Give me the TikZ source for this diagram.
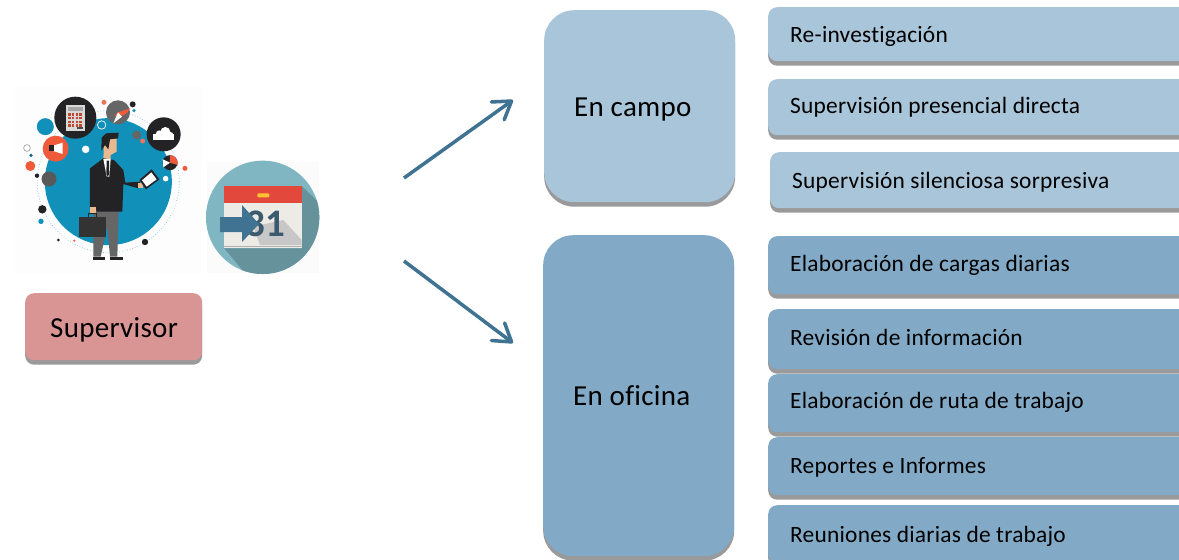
\documentclass[tikz,border=0pt]{standalone}
\usepackage{fontspec}
\setmainfont[LetterSpace=1,Ligatures=NoCommon]{Carlito}
\usetikzlibrary{shadows,arrows.meta}
\definecolor{pinkbox}{HTML}{D99594}
\definecolor{lightbox}{HTML}{A9C5D9}
\definecolor{darkbox}{HTML}{82AAC6}
\definecolor{arrowblue}{HTML}{3F7391}
\definecolor{shade}{HTML}{9A9A9A}
\definecolor{ball}{HTML}{1190B9}
\definecolor{suit}{HTML}{232326}
\definecolor{skin}{HTML}{E9B98F}
\definecolor{orangeic}{HTML}{EF5A3A}
\definecolor{calteal}{HTML}{7FB6C1}
\definecolor{calshade}{HTML}{66929C}
\definecolor{calred}{HTML}{E2483C}
\definecolor{calpage}{HTML}{EDEBE6}
\definecolor{calnum}{HTML}{3C5A6E}
\tikzset{
  boxbase/.style={rounded corners=#1,drop shadow={shadow xshift=0pt,shadow yshift=-4.5pt,opacity=1,fill=shade,rounded corners=#1},inner sep=0pt},
  sidebox/.style={boxbase=9pt,anchor=north west,minimum width=430pt},
  lightrow/.style={sidebox,fill=lightbox},
  darkrow/.style={sidebox,fill=darkbox},
  mainbox/.style={boxbase=30pt,anchor=north west,minimum width=191pt},
  rowtext/.style={anchor=base west,inner sep=0pt,font=\fontsize{23.4}{25}\selectfont},
  bigtext/.style={anchor=base west,inner sep=0pt,font=\fontsize{29}{30}\selectfont},
  flow/.style={draw=arrowblue,line width=3.5pt,-{Straight Barb[length=17pt,width=22pt,line width=3.5pt,round]}}
}
\begin{document}
\begin{tikzpicture}[x=1pt,y=-1pt]
\clip (0,0) rectangle (1179,560);
\fill[white] (0,0) rectangle (1179,560);

% ---------- supervisor illustration (coordinates in 3x crop units)
\begin{scope}[shift={(0,70)},x=0.33333pt,y=-0.33333pt]
  \fill[black!.8] (45,50) rectangle (605,610);
  \fill[ball] (325,335) circle[radius=63.5pt];
  \draw[ball!50,dotted,line width=.7pt] (325,335) circle[radius=71pt];
  % orbit icons
  \fill[suit] (226,143) circle[radius=21pt];
  \fill[black!15] (198,106) rectangle (254,182);
  \fill[black!35] (204,112) rectangle (248,124);
  \foreach \xx in {205,216,227,238}{\foreach \yy in {130,141,152,163}{\fill[orangeic!80!black] (\xx,\yy) rectangle ++(7,7);}}
  \fill[black!70] (230,172) rectangle (250,178);
  \fill[ball] (136,170) circle[radius=8.5pt];
  \fill[orangeic] (167,236) circle[radius=13pt];
  \fill[white] (150,230) -- (188,218) -- (188,252) -- (150,240) -- cycle;
  \fill[suit] (146,226) rectangle (163,242);
  \fill[black!60] (354,127) circle[radius=12pt];
  \fill[orangeic] (354,127) -- (390,115) arc[start angle=-20,end angle=-110,radius=12pt] -- cycle;
  \fill[white] (354,127) -- (340,160) -- (366,140) -- cycle;
  \fill[suit] (398,103) circle[radius=3pt];
  \fill[orangeic!85] (312,97) circle[radius=2.5pt];
  \fill[ball] (402,122) circle[radius=1.8pt];
  \fill[suit] (491,193) circle[radius=17pt];
  \fill[white] (460,210) rectangle (522,192);
  \fill[white] (478,192) circle[radius=3.6pt] (496,186) circle[radius=5pt] (510,196) circle[radius=3.5pt];
  \fill[black!60] (410,195) circle[radius=4.5pt];
  \fill[orangeic!85] (428,213) circle[radius=2.5pt];
  \fill[white] (257,238) circle[radius=3.8pt];
  \draw[white,line width=.7pt] (305,165) circle[radius=4.2pt];
  \fill[suit] (510,278) circle[radius=7.5pt];
  \fill[orangeic] (510,255) -- (510,278) -- (533,285) arc[start angle=-15,end angle=85,radius=7.5pt] -- cycle;
  \fill[white] (510,278) -- (488,268) -- (490,292) -- cycle;
  \fill[orangeic] (91,288) circle[radius=5pt];
  \draw[black!40,line width=.6pt] (81,234) circle[radius=3.4pt];
  \fill[ball!70!black] (93,256) circle[radius=1.8pt];
  \fill[black!65] (147,327) circle[radius=7.5pt];
  \fill[suit] (111,317) circle[radius=2.2pt];
  \fill[suit] (127,418) circle[radius=4.2pt];
  \fill[ball] (123,454) circle[radius=2.7pt];
  \fill[suit] (435,516) circle[radius=3.2pt];
  \fill[orangeic] (555,295) circle[radius=2.5pt];
  \fill[white] (497,326) circle[radius=2.8pt];
  \fill[suit] (175,510) circle[radius=1.5pt];
  \fill[orangeic] (223,512) circle[radius=1.2pt];
  % man
  \fill[black!60] (280,420) -- (356,420) -- (352,560) -- (330,560) -- (322,470) -- (302,560) -- (280,560) -- cycle;
  \fill[suit] (278,560) rectangle (316,570);
  \fill[suit] (330,560) rectangle (368,570);
  \fill[skin] (312,208) -- (350,205) -- (350,245) -- (332,255) -- (332,272) -- (310,272) -- cycle;
  \fill[suit] (270,295) -- (310,265) -- (342,270) -- (370,300) -- (376,338) -- (420,335) -- (415,355) -- (370,342) -- (367,425) -- (290,425) -- (288,415) -- (270,415) -- cycle;
  \fill[white] (310,267) -- (332,267) -- (328,320) -- (320,320) -- cycle;
  \fill[suit] (320,272) -- (327,272) -- (328,312) -- (323,320) -- (319,312) -- cycle;
  \fill[skin] (270,412) rectangle (288,430);
  \fill[skin] (413,338) rectangle (430,355);
  \fill[suit] (304,242) -- (305,203) -- (318,190) -- (356,188) -- (354,205) -- (330,208) -- (325,238) -- (315,225) -- cycle;
  \fill[suit] (418,330) -- (455,298) -- (478,328) -- (438,358) -- cycle;
  \fill[white] (426,331) -- (454,307) -- (470,328) -- (440,350) -- cycle;
  \draw[suit,line width=1.3pt] (265,442) -- (265,430) -- (290,430) -- (290,442);
  \fill[black!80] (238,442) rectangle (318,502);
\end{scope}

% ---------- calendar
\begin{scope}[shift={(0,70)},x=0.33333pt,y=-0.33333pt]
  \fill[black!1.5] (622,277) rectangle (958,610);
  \fill[calteal] (788,442) circle[radius=56.7pt];
  \begin{scope}
    \clip (788,442) circle[radius=56.7pt];
    \fill[calshade] (905,348) -- (990,430) -- (990,640) -- (760,640) -- (673,535) -- (905,535) -- cycle;
  \end{scope}
  \fill[calpage] (673,400) rectangle (905,535);
  \fill[black!22] (760,470) -- (850,450) -- (905,510) -- (905,525) -- (780,525) -- cycle;
  \fill[calred] (673,348) rectangle (905,400);
  \fill[orange!60!yellow!80!white,rounded corners=1pt] (772,370) rectangle (808,382);
  \draw[white!70!black,line width=.6pt] (673,528) -- (905,528);
\end{scope}
\node[inner sep=0pt,text=calnum,font=\bfseries\fontsize{39}{40}\selectfont] (num) at (265,224) {31};
\fill[arrowblue] (220,217) -- (242,217) -- (242,205) -- (259,224) -- (242,242) -- (242,232) -- (220,232) -- cycle;

% ---------- boxes
\node[boxbase=9pt,anchor=north west,fill=pinkbox,minimum width=177pt,minimum height=67pt] (sup) at (25,293) {};
\node[bigtext] (supt) at (50,337.5) {Supervisor};
\node[mainbox,fill=lightbox,minimum height=192pt] (campo) at (544,10) {};
\node[bigtext] (campot) at (574,116.5) {En campo};
\node[mainbox,fill=darkbox,minimum height=321pt] (oficina) at (543,235) {};
\node[bigtext] (oficinat) at (573,405) {En oficina};

\node[lightrow,minimum height=54pt] (r1) at (768,7) {};
\node[lightrow,minimum height=56pt] (r2) at (768,79) {};
\node[lightrow,minimum height=56pt] (r3) at (770,152) {};
\node[darkrow,minimum height=58pt] (r4) at (768,236) {};
\node[darkrow,minimum height=60pt] (r5) at (768,309) {};
\node[darkrow,minimum height=58pt] (r6) at (768,374) {};
\node[darkrow,minimum height=58pt] (r7) at (768,437) {};
\node[darkrow,minimum height=58pt] (r8) at (768,505) {};
\node[rowtext] (t1) at (790,42.5) {Re-investigación};
\node[rowtext] (t2) at (790,113.2) {Supervisión presencial directa};
\node[rowtext] (t3) at (792,188.2) {Supervisión silenciosa sorpresiva};
\node[rowtext] (t4) at (790,271.3) {Elaboración de cargas diarias};
\node[rowtext] (t5) at (790,345.3) {Revisión de información};
\node[rowtext] (t6) at (790,408.3) {Elaboración de ruta de trabajo};
\node[rowtext] (t7) at (790,473.2) {Reportes e Informes};
\node[rowtext] (t8) at (790,542.2) {Reuniones diarias de trabajo};

% ---------- arrows
\coordinate (up0) at (404,178);
\coordinate (up1) at (513,100);
\coordinate (dn0) at (404,261);
\coordinate (dn1) at (513,343);
\draw[flow] (up0) -- (up1);
\draw[flow] (dn0) -- (dn1);
\end{tikzpicture}
\end{document}
